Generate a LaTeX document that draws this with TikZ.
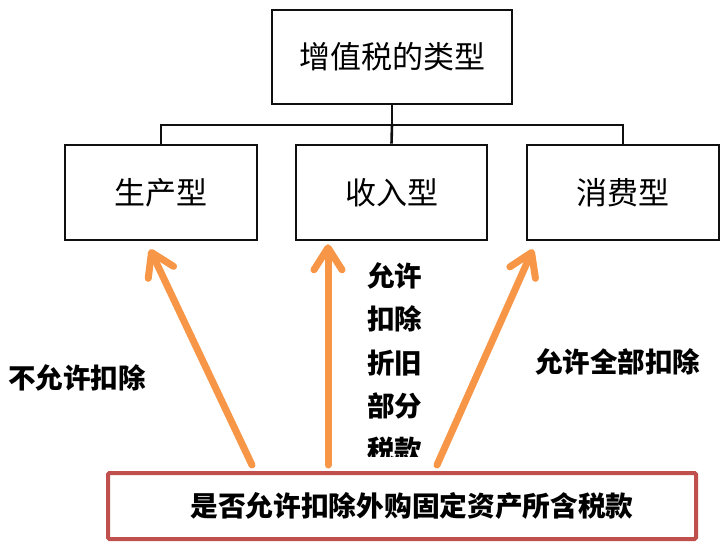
\documentclass[tikz,border=0pt]{standalone}
\usepackage{fontspec}
\usepackage{tikz}
\usetikzlibrary{arrows.meta, positioning, calc}
\newfontfamily\cjk{Noto Sans CJK SC}
\definecolor{Tangerine}{HTML}{F79646}
\definecolor{Brick}{HTML}{C0504D}
\definecolor{Black90}{HTML}{101010}

\begin{document}
\begin{tikzpicture}[
    x=1pt, y=-1pt,
    every node/.style={font=\cjk},
    typebox/.style={rectangle, draw=Black90, fill=white, line width=2.6pt, inner sep=0pt, font=\cjk\fontsize{31}{31}\selectfont},
    basebox/.style={rectangle, draw=Brick, fill=white, line width=4pt, rounded corners=1.5pt, inner sep=0pt, font=\cjk\bfseries\fontsize{27.7}{27.7}\selectfont},
    note/.style={font=\cjk\bfseries\fontsize{27.5}{43.5}\selectfont, inner sep=0pt, align=left},
    tree/.style={draw=Black90, line width=2.6pt},
    arrow/.style={-{Straight Barb[length=22pt, width=28pt, round]}, draw=Tangerine, line width=7pt, line cap=round}
]
\useasboundingbox[fill=white] (0,0) rectangle (725,549);

% Top of the tree
\node[typebox, minimum width=240pt, minimum height=94pt] (type) at (392,57) {增值税的类型};

% Three types
\node[typebox, minimum width=192pt, minimum height=95pt] (prod) at (161,192.5) {生产型};
\node[typebox, minimum width=191pt, minimum height=95pt] (inc) at (391.5,192.5) {收入型};
\node[typebox, minimum width=192pt, minimum height=95pt] (cons) at (623,192.5) {消费型};

\coordinate (joint) at (392,125);
\draw[tree] (type.south) -- (joint);
\draw[tree] (joint) -| (prod.north);
\draw[tree] (joint) -| (cons.north);
\draw[tree] (joint) -- (inc.north);

% Question box
\node[basebox, minimum width=588pt, minimum height=66pt] (base) at (402,506) {\hspace*{20pt}是否允许扣除外购固定资产所含税款};

% Arrows from the question to each type
\draw[arrow] ([xshift=-150pt, yshift=6pt]base.north) -- ([xshift=-11pt, yshift=-8pt]prod.south);
\draw[arrow] ([xshift=-74pt, yshift=6pt]base.north) -- ([xshift=-63.5pt, yshift=-3pt]inc.south);
\draw[arrow] ([xshift=35pt, yshift=6pt]base.north) -- ([xshift=-90pt, yshift=-8pt]cons.south);

% Labels
\node[note] (none) at (77,378) {不允许扣除};
\node[note] (full) at (617.5,362) {允许全部扣除};
\begin{scope}
\clip (0,0) rectangle (725,456);
\node[note, anchor=north west] (part) at (367,262) {允许\\扣除\\折旧\\部分\\税款};
\end{scope}

\end{tikzpicture}
\end{document}
